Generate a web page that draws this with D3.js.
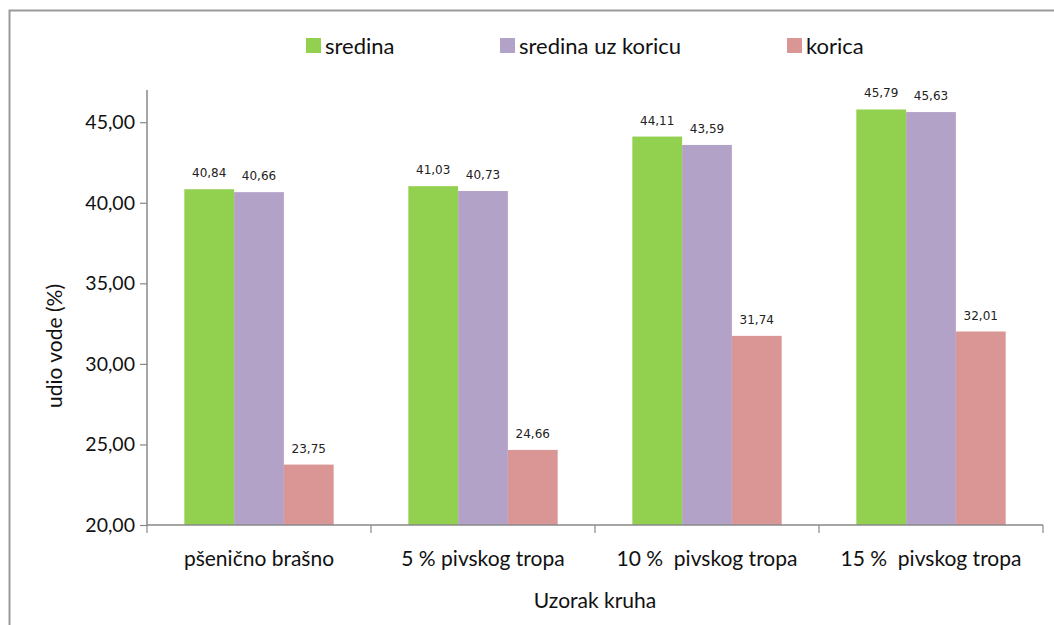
<!DOCTYPE html>
<html><head><meta charset="utf-8">
<script src="https://cdn.jsdelivr.net/npm/d3@7"></script>
<style>body{margin:0;background:#fff}svg{display:block}</style>
</head><body>
<svg id="c" width="1054" height="625"></svg>
<script>
const categories = ["pšenično brašno", "5 % pivskog tropa", "10 %  pivskog tropa", "15 %  pivskog tropa"];
const seriesNames = ["sredina", "sredina uz koricu", "korica"];
const sredina = [40.84, 41.03, 44.11, 45.79];
const sredinaUzKoricu = [40.66, 40.73, 43.59, 45.63];
const korica = [23.75, 24.66, 31.74, 32.01];
const yTicks = [20, 25, 30, 35, 40, 45];
const colors = ["#92D050", "#B3A2C7", "#D99694"];
const seriesValues = [sredina, sredinaUzKoricu, korica];

const svg = d3.select("#c");
const font = "Lato, 'Open Sans', sans-serif";
// outer border
svg.append("path").attr("d", "M9.5,625 L9.5,10.5 L1054,10.5").attr("fill","none").attr("stroke","#999").attr("stroke-width",2);

const L = 147, R = 1043, T = 90, B = 525;
const x0 = d3.scaleBand().domain(categories).range([L, R]).paddingInner(0).paddingOuter(0);
const bw = x0.bandwidth() / 4.5;
const x1 = d3.scaleBand().domain(seriesNames).range([0.75*bw, 3.75*bw]);
const y = d3.scaleLinear().domain([20, 47]).range([B, T]);

const fmt = v => d3.format(".2f")(v).replace(".", ",");

// bars
seriesNames.forEach((s, si) => {
  const g = svg.append("g");
  g.selectAll("rect").data(seriesValues[si]).join("rect")
    .attr("x", (d,i) => x0(categories[i]) + x1(s))
    .attr("y", d => y(d))
    .attr("width", x1.bandwidth())
    .attr("height", d => y(20) - y(d))
    .attr("fill", colors[si]);
  g.selectAll("text").data(seriesValues[si]).join("text")
    .attr("x", (d,i) => x0(categories[i]) + x1(s) + x1.bandwidth()/2)
    .attr("y", d => y(d) - 12)
    .attr("text-anchor","middle")
    .attr("font-family", "'DejaVu Sans', sans-serif")
    .attr("font-size", 12).attr("fill","#222")
    .text(d => fmt(d));
});

// y axis
const ya = svg.append("g").attr("transform", `translate(${L},0)`)
  .call(d3.axisLeft(y).tickValues(yTicks).tickSize(7).tickFormat(d => fmt(d)));
ya.select(".domain").attr("stroke","#888").attr("stroke-width",1.5).attr("d", `M0,${B}V${T}`);
ya.selectAll(".tick line").attr("stroke","#888").attr("stroke-width",1.2);
ya.selectAll(".tick text").attr("font-family", font).attr("font-size", 19.5).attr("fill","#111").attr("x",-12);

// x axis
const xa = svg.append("g").attr("transform", `translate(0,${B})`);
xa.append("line").attr("x1", L).attr("x2", R).attr("stroke","#888").attr("stroke-width",1.5);
const xt = [L].concat(categories.map(c => x0(c) + x0.bandwidth()));
xa.selectAll("line.t").data(xt).join("line").attr("class","t")
  .attr("x1", d=>d).attr("x2", d=>d).attr("y1",0).attr("y2",8).attr("stroke","#888").attr("stroke-width",1.2);
xa.selectAll("text").data(categories).join("text")
  .attr("x", d => x0(d) + x0.bandwidth()/2).attr("y", 41)
  .attr("text-anchor","middle").attr("font-family", font).attr("font-size", 21).attr("fill","#111")
  .attr("xml:space","preserve").style("white-space","pre")
  .attr("textLength", null)
  .text(d => d);

// axis titles
svg.append("text").attr("x", 595).attr("y", 608).attr("text-anchor","middle")
  .attr("font-family", font).attr("font-size", 21).attr("fill","#111").text("Uzorak kruha");
svg.append("text").attr("transform","translate(62,346) rotate(-90)").attr("text-anchor","middle")
  .attr("font-family", font).attr("font-size", 21).attr("fill","#111").text("udio vode (%)");

// legend
const legX = [306, 500, 787];
const lg = svg.append("g");
seriesNames.forEach((s, i) => {
  lg.append("rect").attr("x", legX[i]).attr("y", 38).attr("width", 15).attr("height", 15).attr("fill", colors[i]);
  lg.append("text").attr("x", legX[i] + 19).attr("y", 54).attr("font-family", font).attr("font-size", 22).attr("fill","#111").text(s);
});
</script>
</body></html>
